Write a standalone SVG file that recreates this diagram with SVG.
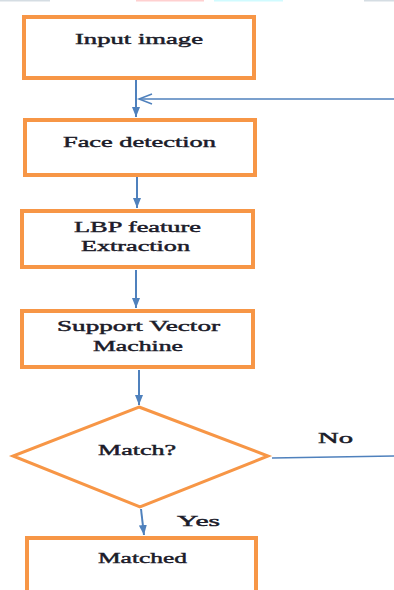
<svg xmlns="http://www.w3.org/2000/svg" width="394" height="590" viewBox="0 0 394 590">
<style>
.box{fill:#fff;stroke:#F79646;stroke-width:4}
.dia{fill:#fff;stroke:#F79646;stroke-width:3}
.con{stroke:#4F81BD;stroke-width:2;fill:none}
.lbl{font-family:"Liberation Serif","Times New Roman",serif;font-size:15px;fill:#1c1c2a;stroke:#1c1c2a;stroke-width:0.45}
</style>
<defs>
<marker id="ah" viewBox="0 0 10 8" refX="10" refY="4" markerWidth="5" markerHeight="4" markerUnits="strokeWidth" orient="auto">
<path d="M0,0 L10,4 L0,8 Z" fill="#4F81BD"/>
</marker>
</defs>
<rect width="394" height="590" fill="#fff"/>
<g id="topstrip">
<rect x="0" y="0" width="50" height="1.5" fill="#d5dde3"/>
<rect x="136" y="0" width="68" height="1.5" fill="#ffd0d0"/>
<rect x="214" y="0" width="69" height="1.5" fill="#d0fbff"/>
<rect x="364" y="0" width="30" height="1.5" fill="#d5dde3"/>
</g>
<g id="connectors">
<line class="con" x1="136" y1="80" x2="136" y2="117" marker-end="url(#ah)"/>
<line x1="394" y1="99" x2="139" y2="99" stroke="#4F81BD" stroke-width="1.5"/>
<path d="M152,94 L139,99 L152,104" fill="none" stroke="#4F81BD" stroke-width="1.5"/>
<line class="con" x1="137" y1="177" x2="137" y2="208" marker-end="url(#ah)"/>
<line class="con" x1="136" y1="270" x2="136" y2="308" marker-end="url(#ah)"/>
<line class="con" x1="139" y1="370" x2="139" y2="405" marker-end="url(#ah)"/>
<line class="con" x1="141" y1="509" x2="144" y2="535" marker-end="url(#ah)"/>
<line x1="272" y1="458" x2="394" y2="456" stroke="#4F81BD" stroke-width="1.5"/>
<text class="lbl" x="335.5" y="443" text-anchor="middle" textLength="35" lengthAdjust="spacingAndGlyphs">No</text>
<text class="lbl" x="198.5" y="526" text-anchor="middle" textLength="43" lengthAdjust="spacingAndGlyphs">Yes</text>
</g>
<g id="input">
<rect class="box" x="24" y="17" width="230" height="61"/>
<text class="lbl" x="139" y="44" text-anchor="middle" textLength="128" lengthAdjust="spacingAndGlyphs">Input image</text>
</g>
<g id="face">
<rect class="box" x="25" y="120" width="230" height="55"/>
<text class="lbl" x="139.5" y="147" text-anchor="middle" textLength="153" lengthAdjust="spacingAndGlyphs">Face detection</text>
</g>
<g id="lbp">
<rect class="box" x="22" y="211" width="231" height="56"/>
<text class="lbl" x="137.5" y="232" text-anchor="middle" textLength="127" lengthAdjust="spacingAndGlyphs">LBP feature</text>
<text class="lbl" x="135.5" y="251" text-anchor="middle" textLength="109" lengthAdjust="spacingAndGlyphs">Extraction</text>
</g>
<g id="svm">
<rect class="box" x="22" y="311" width="231" height="56"/>
<text class="lbl" x="138.5" y="331" text-anchor="middle" textLength="163" lengthAdjust="spacingAndGlyphs">Support Vector</text>
<text class="lbl" x="138" y="351" text-anchor="middle" textLength="90" lengthAdjust="spacingAndGlyphs">Machine</text>
</g>
<g id="match">
<polygon class="dia" points="139,407 268,456 140,507 13,456"/>
<text class="lbl" x="137" y="455" text-anchor="middle" textLength="78" lengthAdjust="spacingAndGlyphs">Match?</text>
</g>
<g id="matched">
<rect class="box" x="27" y="538" width="229" height="60"/>
<text class="lbl" x="142.5" y="563" text-anchor="middle" textLength="89" lengthAdjust="spacingAndGlyphs">Matched</text>
</g>
</svg>
